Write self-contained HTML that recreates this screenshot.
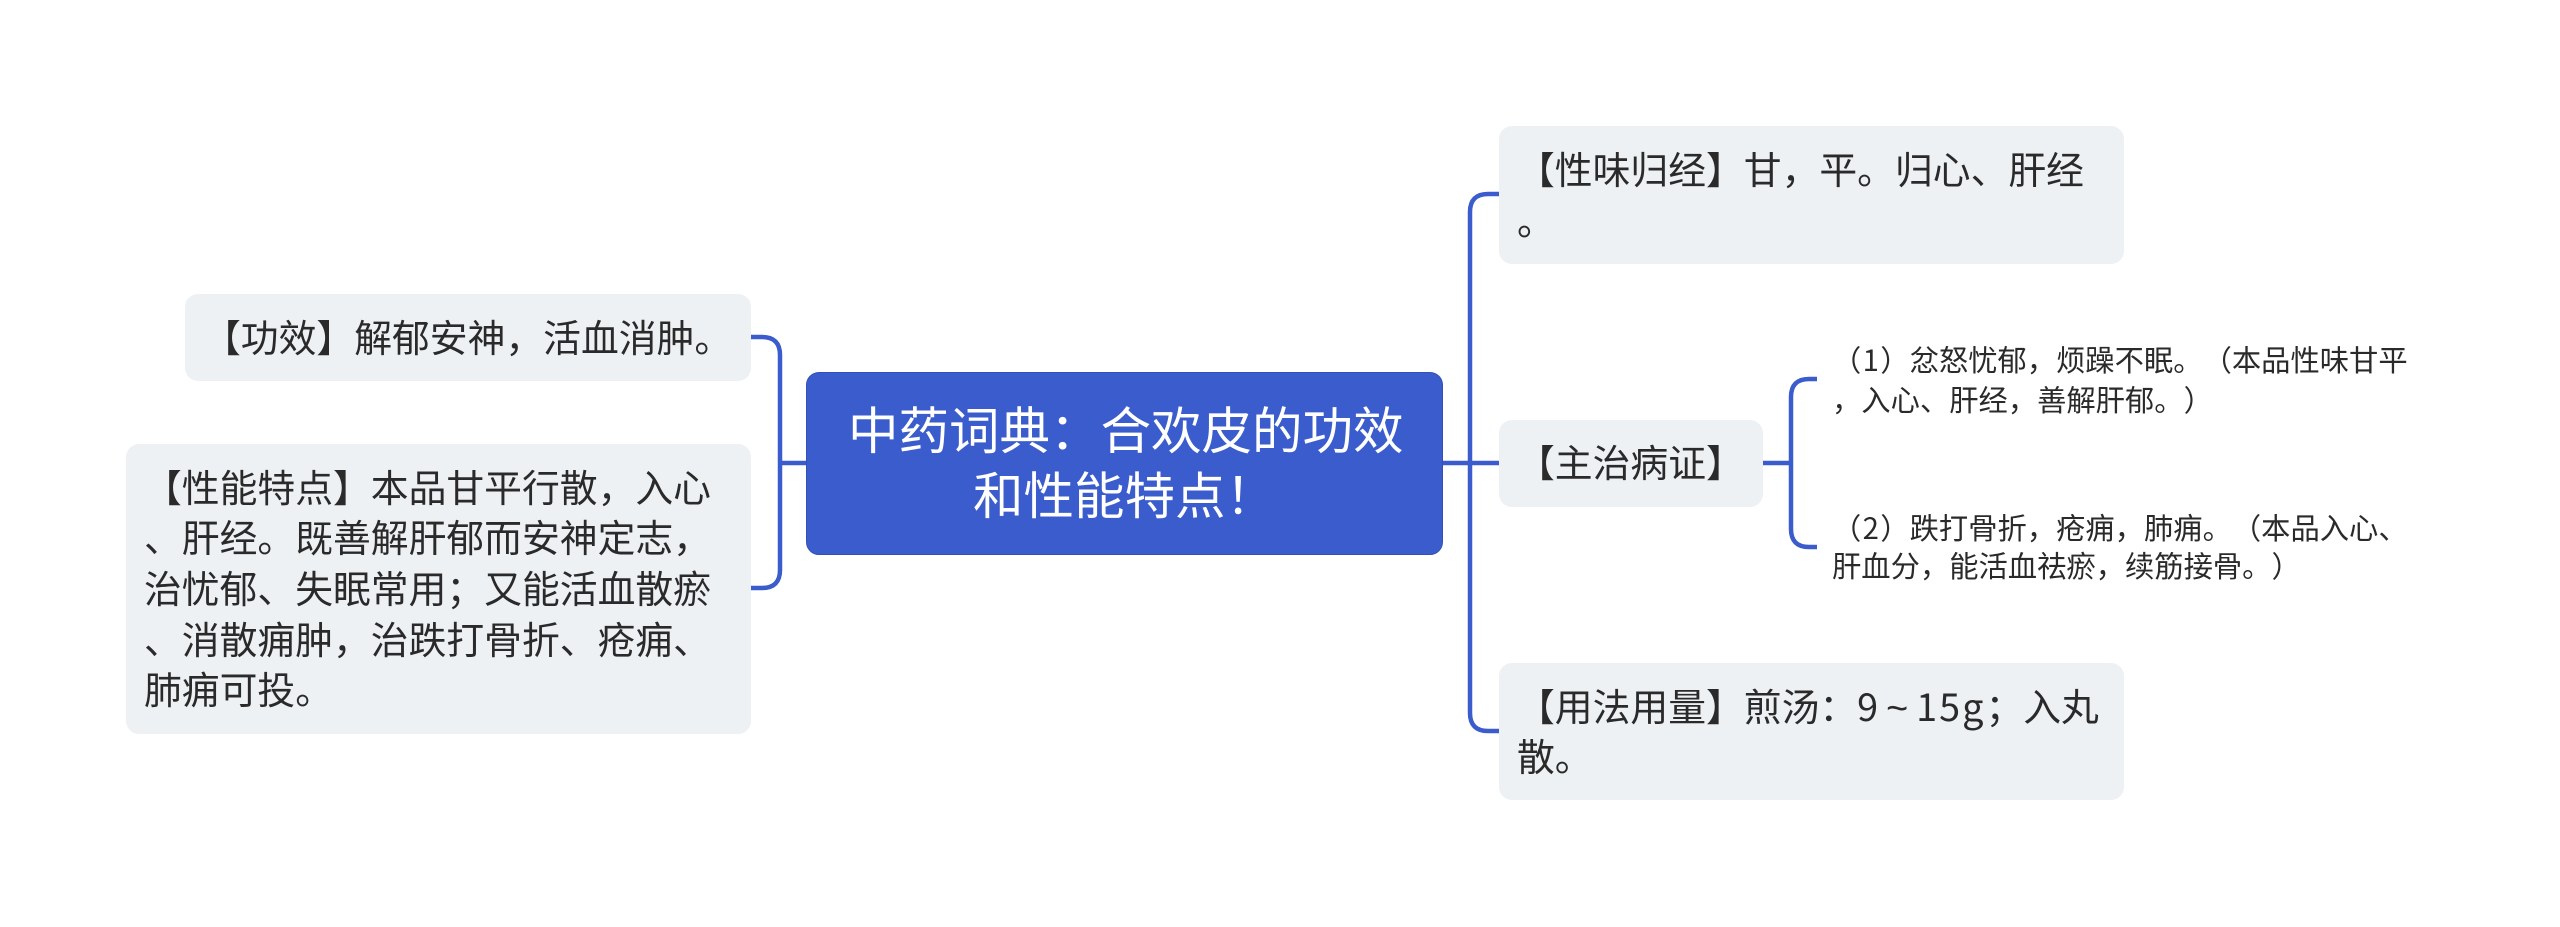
<!DOCTYPE html>
<html lang="zh-CN">
<head>
<meta charset="utf-8">
<title>中药词典：合欢皮的功效和性能特点！</title>
<style>
html,body{margin:0;padding:0;background:#fff;}
#c{position:relative;width:2560px;height:927px;overflow:hidden;background:#fff;font-family:"Liberation Sans","Noto Sans CJK SC",sans-serif;color:#2a2a2a;}
.b{position:absolute;background:#eef1f4;border-radius:13px;}
.r{background:#3b5ccc;border:1px solid #3450b4;box-sizing:border-box;}
.t{position:absolute;white-space:pre;line-height:50px;height:50px;font-size:37.8px;text-spacing-trim:space-all;font-family:"Noto Sans CJK SC","Liberation Sans",sans-serif;}
.s{font-size:29.3px;line-height:40px;height:40px;}
.w{font-size:50.5px;line-height:66px;height:66px;color:#fff;}
.d{display:inline-block;width:19px;text-align:center;}
.u{display:inline-block;width:38px;text-align:center;font-family:"Liberation Sans",sans-serif;}
.l{letter-spacing:2px;}
svg{position:absolute;left:0;top:0;}
</style>
</head>
<body>
<div id="c">
<svg width="2560" height="927" fill="none" stroke="#3b5ccc" stroke-width="4.5">
<path d="M751 337H762Q780 337 780 355V570Q780 588 762 588H751"/>
<path d="M780 463H806"/>
<path d="M1499 194H1488Q1470 194 1470 212V713Q1470 731 1488 731H1499"/>
<path d="M1443 463H1499"/>
<path d="M1763 463H1791"/>
<path d="M1817 379H1809Q1791 379 1791 397V529Q1791 547 1809 547H1817"/>
</svg>

<div class="b r" style="left:806px;top:372px;width:637px;height:183px;"></div>
<div class="b" style="left:185px;top:294px;width:566px;height:87px;"></div>
<div class="b" style="left:126px;top:444px;width:625px;height:290px;"></div>
<div class="b" style="left:1499px;top:126px;width:625px;height:138px;"></div>
<div class="b" style="left:1499px;top:420px;width:264px;height:87px;"></div>
<div class="b" style="left:1499px;top:663px;width:625px;height:137px;"></div>

<div class="t w" style="left:848px;top:394px;">中药词典：合欢皮的功效</div>
<div class="t w" style="left:973px;top:459px;">和性能特点！</div>

<div class="t" style="left:203px;top:311px;">【功效】解郁安神，活血消肿。</div>

<div class="t" style="left:144px;top:461px;">【性能特点】本品甘平行散，入心</div>
<div class="t" style="left:144px;top:511px;">、肝经。既善解肝郁而安神定志，</div>
<div class="t" style="left:144px;top:562px;">治忧郁、失眠常用；又能活血散瘀</div>
<div class="t" style="left:144px;top:613px;">、消散痈肿，治跌打骨折、疮痈、</div>
<div class="t" style="left:144px;top:663px;">肺痈可投。</div>

<div class="t" style="left:1517px;top:143px;">【性味归经】甘，平。归心、肝经</div>
<div class="t" style="left:1517px;top:194px;">。</div>

<div class="t" style="left:1517px;top:436px;">【主治病证】</div>

<div class="t" style="left:1517px;top:680px;">【用法用量】煎汤：9<span class="u">~</span><span class="l">15g</span>；入丸</div>
<div class="t" style="left:1517px;top:730px;">散。</div>

<div class="t s" style="left:1832px;top:339px;">（<span class="d">1</span>）忿怒忧郁，烦躁不眠。（本品性味甘平</div>
<div class="t s" style="left:1832px;top:379px;">，入心、肝经，善解肝郁。）</div>
<div class="t s" style="left:1832px;top:507px;">（<span class="d">2</span>）跌打骨折，疮痈，肺痈。（本品入心、</div>
<div class="t s" style="left:1832px;top:545px;">肝血分，能活血祛瘀，续筋接骨。）</div>
</div>
</body>
</html>
